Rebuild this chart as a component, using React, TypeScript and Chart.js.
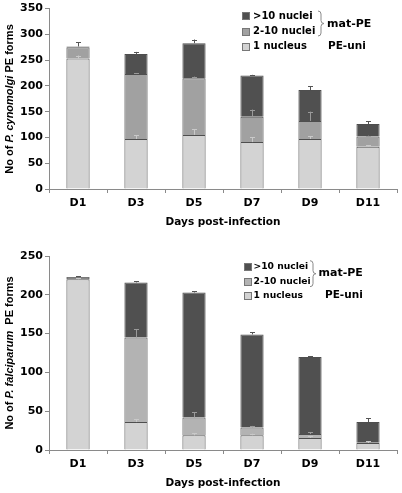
import React, { useEffect, useRef } from "react";
import { Chart, registerables } from "chart.js";
Chart.register(...registerables);

// ---------- data ----------
const days = ["D1", "D3", "D5", "D7", "D9", "D11"];
const seriesNames = ["1 nucleus", "2-10 nuclei", ">10 nuclei"];
const groupNames = ["mat-PE", "PE-uni"];
const xTitle = "Days post-infection";

// P. cynomolgi (top)
const cynoOne = [253, 97, 105, 91, 97, 82];
const cynoTwoTen = [22, 126, 110, 49, 35, 20];
const cynoOverTen = [1.5, 39, 68, 80, 60, 24];
const cynoOneErr = [6, 7, 11, 9, 5.5, 3];
const cynoTwoTenErr = [0, 2, 3, 14, 18, 1.5];
const cynoOverTenErr = [8, 4, 7, 1.5, 7, 5];
const cynoTicks = [0, 50, 100, 150, 200, 250, 300, 350];
const cynoTitle = ["No of ", "P. cynomolgi", " PE forms"];

// P. falciparum (bottom)
const falcOne = [220, 36, 19, 19, 15.5, 9];
const falcTwoTen = [1.5, 109, 23, 10, 5, 0.5];
const falcOverTen = [1.5, 71, 161, 120, 99.5, 26.5];
const falcOneErr = [1.5, 4, 2.5, 2, 2, 2];
const falcTwoTenErr = [0, 10.5, 6.5, 2, 2.5, 0];
const falcOverTenErr = [1, 1.5, 1.5, 3, 1, 5];
const falcTicks = [0, 50, 100, 150, 200, 250];
const falcTitle = ["No of ", "P. falciparum", "  PE forms"];

// ---------- styles ----------
const FONT = "'DejaVu Sans', sans-serif";
const TITLE_FONT = "'Liberation Sans', Arial, sans-serif";
const C_ONE = "#d3d3d3";
const C_OVER = "#505050";
const C_BORDER = "#4e4e4e";
const C_AXIS = "#8a8a8a";

type Panel = {
  one: number[]; two: number[]; over: number[];
  oneErr: number[]; twoErr: number[]; overErr: number[];
  ticks: number[]; title: string[]; twoColor: string;
  height: number; padTop: number; xAxisH: number;
  xTitleY: number; yTitleCy: number;
  legend: {
    boxX: number; textX: number; rows: number[]; font: number;
    braceX: number; braceTop: number; braceBot: number;
    matX: number; matY: number; matFont: number;
    uniX: number; uniY: number; uniFont: number;
  };
};

const panels: Panel[] = [
  {
    one: cynoOne, two: cynoTwoTen, over: cynoOverTen,
    oneErr: cynoOneErr, twoErr: cynoTwoTenErr, overErr: cynoOverTenErr,
    ticks: cynoTicks, title: cynoTitle, twoColor: "#a1a1a1",
    height: 240, padTop: 8, xAxisH: 51, xTitleY: 222, yTitleCy: 99,
    legend: {
      boxX: 242, textX: 253, rows: [16, 31.5, 46.5], font: 10,
      braceX: 318, braceTop: 11, braceBot: 36,
      matX: 327, matY: 24, matFont: 11,
      uniX: 328, uniY: 46.5, uniFont: 10.5,
    },
  },
  {
    one: falcOne, two: falcTwoTen, over: falcOverTen,
    oneErr: falcOneErr, twoErr: falcTwoTenErr, overErr: falcOverTenErr,
    ticks: falcTicks, title: falcTitle, twoColor: "#b3b3b3",
    height: 253, padTop: 16, xAxisH: 43, xTitleY: 243.5, yTitleCy: 113,
    legend: {
      boxX: 244, textX: 253.5, rows: [26.7, 41.7, 56], font: 9.2,
      braceX: 310, braceTop: 20.7, braceBot: 46.7,
      matX: 318.5, matY: 33.3, matFont: 11,
      uniX: 325, uniY: 55.7, uniFont: 10.5,
    },
  },
];

function PanelChart({ p }: { p: Panel }) {
  const ref = useRef<HTMLCanvasElement>(null);
  useEffect(() => {
    const canvas = ref.current!;
    const errs = [p.oneErr, p.twoErr, p.overErr];
    const errColors = ["#c9c9c9", "#9a9a9a", "#555555"];
    const fills = [C_ONE, p.twoColor, C_OVER];

    const extras = {
      id: "extras",
      afterDatasetsDraw(chart: any) {
        const ctx = chart.ctx as CanvasRenderingContext2D;
        const ys = chart.scales.y;
        ctx.save();
        ctx.lineWidth = 1;
        for (let d = 0; d < 3; d++) {
          const meta = chart.getDatasetMeta(d);
          meta.data.forEach((el: any, i: number) => {
            const e = errs[d][i];
            if (!e) return;
            let cum = 0;
            for (let k = 0; k <= d; k++) cum += (chart.data.datasets[k].data[i] as number);
            const y0 = ys.getPixelForValue(cum);
            const y1 = ys.getPixelForValue(cum + e);
            const x = Math.round(el.x) + 0.5;
            ctx.strokeStyle = errColors[d];
            ctx.beginPath();
            ctx.moveTo(x, y0);
            ctx.lineTo(x, y1);
            ctx.moveTo(x - 2.5, Math.round(y1) + 0.5);
            ctx.lineTo(x + 2.5, Math.round(y1) + 0.5);
            ctx.stroke();
          });
        }
        ctx.restore();
      },
      afterDraw(chart: any) {
        const ctx = chart.ctx as CanvasRenderingContext2D;
        const ca = chart.chartArea;
        ctx.save();
        // x title
        ctx.fillStyle = "#000";
        ctx.font = `bold 10.5px ${FONT}`;
        ctx.textAlign = "center";
        ctx.textBaseline = "middle";
        ctx.fillText(xTitle, (ca.left + ca.right) / 2, p.xTitleY);
        // y title with italic species
        const fonts = [`bold 11px ${TITLE_FONT}`, `italic bold 11px ${TITLE_FONT}`, `bold 11px ${TITLE_FONT}`];
        let total = 0;
        const widths = p.title.map((t, i) => { ctx.font = fonts[i]; const w = ctx.measureText(t).width; total += w; return w; });
        ctx.translate(10, p.yTitleCy);
        ctx.rotate(-Math.PI / 2);
        ctx.textAlign = "left";
        let x = -total / 2;
        p.title.forEach((t, i) => { ctx.font = fonts[i]; ctx.fillText(t, x, 0); x += widths[i]; });
        ctx.restore();

        // legend
        const L = p.legend;
        ctx.save();
        ctx.textBaseline = "middle";
        ctx.textAlign = "left";
        for (let r = 0; r < 3; r++) {
          const d = 2 - r;
          const cy = L.rows[r];
          ctx.fillStyle = fills[d];
          ctx.fillRect(L.boxX, Math.round(cy - 4), 8, 8);
          ctx.strokeStyle = "#777";
          ctx.lineWidth = 1;
          ctx.strokeRect(L.boxX + 0.5, Math.round(cy - 4) + 0.5, 7, 7);
          ctx.fillStyle = "#000";
          ctx.font = `bold ${L.font}px ${FONT}`;
          ctx.fillText(seriesNames[d], L.textX, cy);
        }
        // brace
        const x0 = L.braceX, y0 = L.braceTop, y1 = L.braceBot, m = (y0 + y1) / 2, w = 6;
        ctx.strokeStyle = "#8a8a8a";
        ctx.lineWidth = 1;
        ctx.beginPath();
        ctx.moveTo(x0, y0);
        ctx.quadraticCurveTo(x0 + w / 2, y0, x0 + w / 2, y0 + 3);
        ctx.lineTo(x0 + w / 2, m - 3);
        ctx.quadraticCurveTo(x0 + w / 2, m, x0 + w, m);
        ctx.quadraticCurveTo(x0 + w / 2, m, x0 + w / 2, m + 3);
        ctx.lineTo(x0 + w / 2, y1 - 3);
        ctx.quadraticCurveTo(x0 + w / 2, y1, x0, y1);
        ctx.stroke();
        ctx.fillStyle = "#000";
        ctx.font = `bold ${L.matFont}px ${FONT}`;
        ctx.fillText(groupNames[0], L.matX, L.matY);
        ctx.font = `bold ${L.uniFont}px ${FONT}`;
        ctx.fillText(groupNames[1], L.uniX, L.uniY);
        ctx.restore();
      },
    };

    const tickFont = { family: FONT, weight: "bold" as const, size: 11 };
    const chart = new Chart(canvas, {
      type: "bar",
      data: {
        labels: days,
        datasets: [
          { label: seriesNames[0], data: p.one, backgroundColor: C_ONE },
          { label: seriesNames[1], data: p.two, backgroundColor: p.twoColor },
          { label: seriesNames[2], data: p.over, backgroundColor: C_OVER },
        ].map((d) => ({ ...d, borderColor: C_BORDER, borderWidth: 1, barPercentage: 0.4, categoryPercentage: 1 })),
      },
      options: {
        animation: false,
        responsive: false,
        maintainAspectRatio: false,
        layout: { padding: { top: p.padTop, right: 5, left: 0, bottom: 0 } },
        plugins: { legend: { display: false }, tooltip: { enabled: false } },
        scales: {
          x: {
            stacked: true,
            offset: true,
            grid: { display: true, drawOnChartArea: false, drawTicks: true, tickLength: 4, offset: true, color: C_AXIS },
            border: { display: true, color: C_AXIS, width: 1 },
            ticks: { color: "#000", font: tickFont, padding: 4, maxRotation: 0, autoSkip: false },
            afterFit: (s: any) => { s.height = p.xAxisH; },
          },
          y: {
            stacked: true,
            min: 0,
            max: p.ticks[p.ticks.length - 1],
            afterBuildTicks: (s: any) => { s.ticks = p.ticks.map((v) => ({ value: v })); },
            grid: { display: true, drawOnChartArea: false, drawTicks: true, tickLength: 4, color: C_AXIS },
            border: { display: true, color: C_AXIS, width: 1 },
            ticks: { color: "#000", font: tickFont, padding: 2 },
            afterFit: (s: any) => { s.width = 49; },
          },
        },
      } as any,
      plugins: [extras],
    });
    return () => chart.destroy();
  }, [p]);
  return <canvas ref={ref} width={402} height={p.height} style={{ display: "block", width: 402, height: p.height }} />;
}

export default function App() {
  return (
    <div style={{ position: "fixed", left: 0, top: 0, width: 402, height: 493, background: "#fff", overflow: "hidden" }}>
      <div style={{ position: "absolute", left: 0, top: 0 }}>
        <PanelChart p={panels[0]} />
      </div>
      <div style={{ position: "absolute", left: 0, top: 240 }}>
        <PanelChart p={panels[1]} />
      </div>
    </div>
  );
}
